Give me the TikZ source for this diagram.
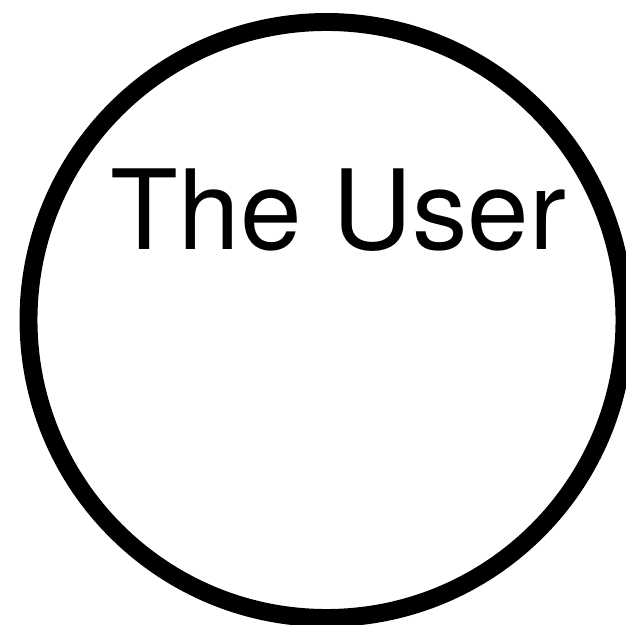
\documentclass[tikz,border=0pt]{standalone}
\usepackage{fontspec}
\setmainfont{TeX Gyre Heros}
\usepackage{tikz}
\usetikzlibrary{positioning}

\begin{document}
\begin{tikzpicture}[
    actor/.style={
        circle, draw=black, line width=10.2pt,
        minimum size=11.92cm, inner sep=0pt
    },
    actorname/.style={
        anchor=base, inner sep=0pt,
        font=\fontsize{63pt}{70pt}\selectfont
    }
]
\useasboundingbox (0,0) rectangle (12.52,12.5);

% the actor circle
\node[actor] (user) at (6.53,6.10) {};

% its name, near the top
\node[actorname] (username) at (6.77,7.5) {The User};

\end{tikzpicture}
\end{document}
